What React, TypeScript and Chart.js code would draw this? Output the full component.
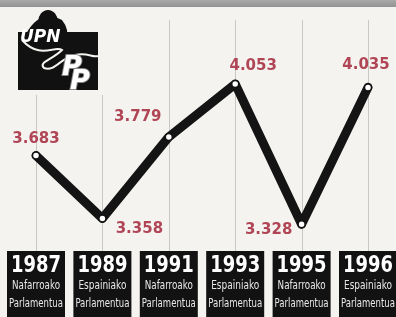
import React, { useEffect, useRef } from "react";
import { Chart, registerables } from "chart.js";

Chart.register(...registerables);

const years = ["1987", "1989", "1991", "1993", "1995", "1996"];
const parliaments = ["Nafarroako", "Espainiako", "Nafarroako", "Espainiako", "Nafarroako", "Espainiako"];
const subtitle = ["Parlamentua", "Parlamentua", "Parlamentua", "Parlamentua", "Parlamentua", "Parlamentua"];
const votes = [3683, 3358, 3779, 4053, 3328, 4035];
const voteLabels = ["3.683", "3.358", "3.779", "4.053", "3.328", "4.035"];

// label offsets relative to each point (style only)
const LABEL_OFFSETS: [number, number][] = [
  [0, -16],
  [37, 11],
  [-31, -20],
  [18, -18],
  [-33, 6],
  [-2, -22],
];

const W = 396;
const H = 317;

const decorPlugin = {
  id: "decor",
  beforeDraw(chart: any) {
    const ctx = chart.ctx;
    const xs = chart.scales.x;
    ctx.save();
    ctx.fillStyle = "#f5f3ef";
    ctx.fillRect(0, 0, W, H);
    const g = ctx.createLinearGradient(0, 0, 0, 8);
    g.addColorStop(0, "#a9a9a9");
    g.addColorStop(1, "#8f8f8f");
    ctx.fillStyle = g;
    ctx.fillRect(0, 0, W, 7);
    ctx.strokeStyle = "#c9c7c4";
    ctx.lineWidth = 1;
    years.forEach((_, i) => {
      const x = Math.round(xs.getPixelForValue(i)) + 0.5;
      ctx.beginPath();
      ctx.moveTo(x, i === 0 || i === 1 ? 95 : 20);
      ctx.lineTo(x, 251);
      ctx.stroke();
    });
    // logo
    ctx.fillStyle = "#111";
    ctx.fillRect(18, 32, 80, 58);
    ctx.beginPath();
    ctx.ellipse(48, 22, 10, 12, 0, 0, Math.PI * 2);
    ctx.fill();
    ctx.beginPath();
    ctx.moveTo(26, 34);
    ctx.quadraticCurveTo(40, 8, 62, 20);
    ctx.quadraticCurveTo(70, 30, 66, 40);
    ctx.fill();
    ctx.strokeStyle = "#f5f3ef";
    ctx.lineWidth = 2;
    ctx.beginPath();
    ctx.moveTo(22, 40);
    ctx.bezierCurveTo(40, 60, 55, 45, 62, 50);
    ctx.bezierCurveTo(52, 60, 38, 62, 44, 68);
    ctx.bezierCurveTo(55, 72, 60, 58, 75, 55);
    ctx.bezierCurveTo(88, 52, 92, 58, 98, 56);
    ctx.stroke();
    ctx.fillStyle = "#ffffff";
    ctx.font = "italic bold 17px 'DejaVu Sans'";
    ctx.textAlign = "left";
    ctx.textBaseline = "alphabetic";
    ctx.fillText("UPN", 20, 42, 50);
    ctx.font = "italic bold 27px 'DejaVu Sans'";
    ctx.lineWidth = 2;
    ctx.strokeStyle = "#888";
    ctx.strokeText("P", 62, 75);
    ctx.fillText("P", 62, 75);
    ctx.strokeText("P", 70, 89);
    ctx.fillText("P", 70, 89);
    ctx.restore();
  },
  afterDatasetsDraw(chart: any) {
    const ctx = chart.ctx;
    const xs = chart.scales.x;
    const meta = chart.getDatasetMeta(0);
    ctx.save();
    ctx.fillStyle = "#b04556";
    ctx.font = "bold 15px 'DejaVu Sans'";
    ctx.textAlign = "center";
    ctx.textBaseline = "middle";
    meta.data.forEach((pt: any, i: number) => {
      const [dx, dy] = LABEL_OFFSETS[i];
      ctx.fillText(voteLabels[i], pt.x + dx, pt.y + dy, 48);
    });
    years.forEach((yr, i) => {
      const cx = xs.getPixelForValue(i);
      ctx.fillStyle = "#121212";
      ctx.fillRect(cx - 29, 251, 58, 66);
      ctx.fillStyle = "#ffffff";
      ctx.font = "bold 23px 'DejaVu Sans'";
      ctx.textAlign = "center";
      ctx.textBaseline = "middle";
      ctx.fillText(yr, cx, 266, 50);
      ctx.fillStyle = "#e8e8e8";
      ctx.font = "12px 'DejaVu Sans Condensed'";
      ctx.fillText(parliaments[i], cx, 286, 48);
      ctx.fillText(subtitle[i], cx, 304, 54);
    });
    ctx.restore();
  },
};

export default function App() {
  const ref = useRef<HTMLCanvasElement>(null);
  useEffect(() => {
    document.body.style.margin = "0";
    const chart = new Chart(ref.current!, {
      type: "line",
      data: {
        labels: years,
        datasets: [
          {
            data: votes,
            borderColor: "#141414",
            borderWidth: 9,
            borderCapStyle: "round",
            borderJoinStyle: "round",
            pointRadius: 3.5,
            pointBackgroundColor: "#ffffff",
            pointBorderColor: "#111",
            pointBorderWidth: 1.5,
            tension: 0,
          },
        ],
      },
      options: {
        responsive: false,
        animation: false,
        layout: { padding: { left: 36, right: 28, top: 8, bottom: 67 } },
        plugins: { legend: { display: false }, tooltip: { enabled: false } },
        scales: {
          x: { display: false, offset: false },
          y: { display: false, min: 3195, max: 4445 },
        },
      },
      plugins: [decorPlugin],
    });
    return () => chart.destroy();
  }, []);
  return <canvas ref={ref} width={W} height={H} style={{ display: "block" }} />;
}
